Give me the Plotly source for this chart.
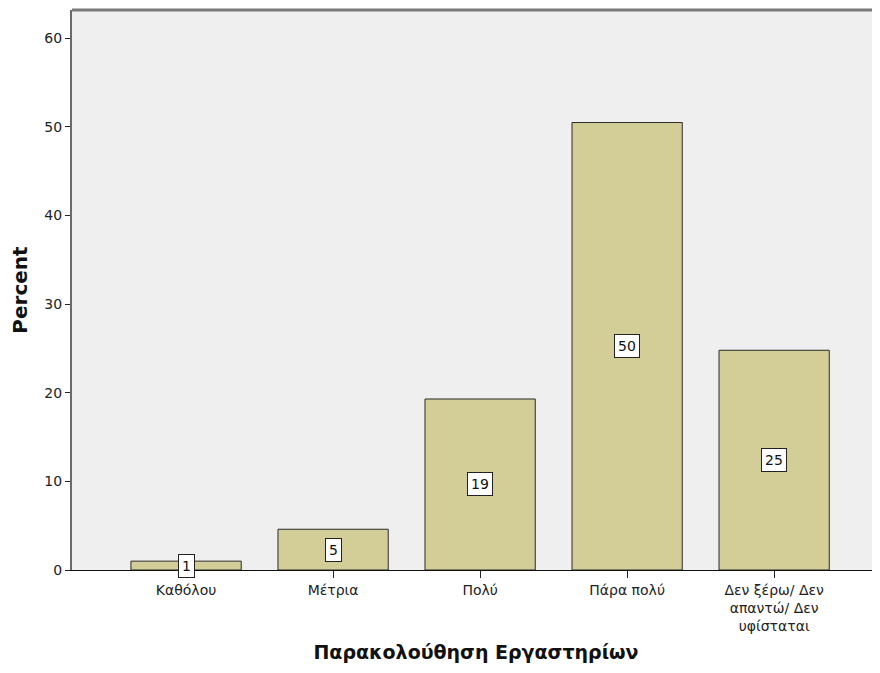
import plotly.graph_objects as go

categories = ['Καθόλου', 'Μέτρια', 'Πολύ', 'Πάρα πολύ', 'Δεν ξέρω/ Δεν<br>απαντώ/ Δεν<br>υφίσταται']
percent = [1.0, 4.6, 19.3, 50.5, 24.8]
labels = ['1', '5', '19', '50', '25']
y_ticks = [0, 10, 20, 30, 40, 50, 60]

x_pos = list(range(len(categories)))
FONT = 'DejaVu Sans, Arial'

fig = go.Figure()
fig.add_trace(go.Bar(
    x=x_pos, y=percent, width=0.75,
    marker=dict(color='#D3CE97', line=dict(color='#2b2b2b', width=1)),
    hoverinfo='skip',
))

# value labels in white boxes at mid-height of each bar
for xi, v, t in zip(x_pos, percent, labels):
    fig.add_annotation(x=xi, y=v / 2, text=t, showarrow=False,
                       font=dict(family=FONT, size=14, color='#111'),
                       bgcolor='white', bordercolor='#222', borderwidth=1, borderpad=3)

# top border of the frame
fig.add_shape(type='line', xref='paper', yref='paper', x0=0, x1=1, y0=1, y1=1,
              line=dict(color='#7a7a7a', width=3))

# page body has an 8px margin, so the figure is a bit smaller than the window
fig.update_layout(
    width=872, height=665,
    margin=dict(l=64, r=0, t=2, b=103),
    paper_bgcolor='white', plot_bgcolor='#EFEFEF',
    showlegend=False,
    font=dict(family=FONT, size=14, color='#222'),
    xaxis=dict(
        range=[-0.776, 4.72], tickmode='array', tickvals=x_pos, ticktext=categories,
        ticks='outside', ticklen=7, tickcolor='#222', showgrid=False, zeroline=False,
        showline=True, linecolor='#111', linewidth=1,
        title=dict(text='<b>Παρακολούθηση Εργαστηρίων</b>', font=dict(size=19, color='#111'), standoff=12),
    ),
    yaxis=dict(
        range=[0, 63.2], tickvals=y_ticks, ticks='outside', ticklen=5, tickcolor='#222',
        showgrid=False, zeroline=False, showline=True, linecolor='#6a6a6a', linewidth=2,
        title=dict(text='<b>Percent</b>', font=dict(size=20, color='#111'), standoff=12),
    ),
)

fig.write_html('out.html')
